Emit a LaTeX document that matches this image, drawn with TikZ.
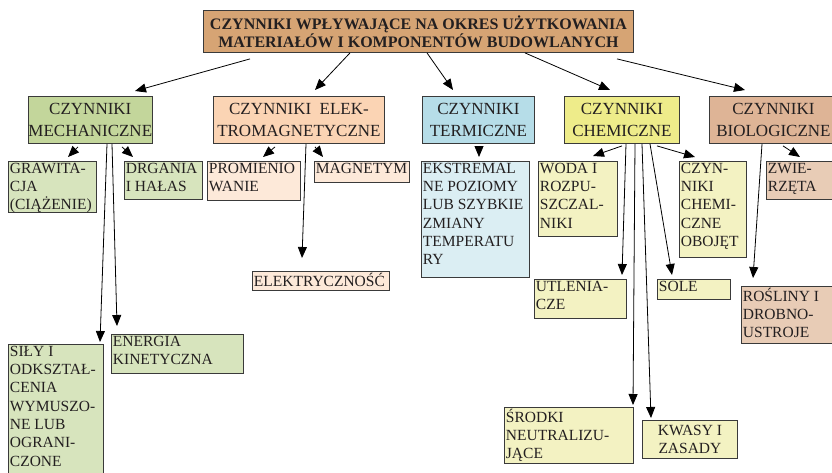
\documentclass[tikz,border=0pt]{standalone}
\usepackage{fontspec}
\setmainfont{Liberation Serif}
\usetikzlibrary{arrows.meta}
\definecolor{TopTan}{HTML}{D6A474}
\definecolor{MechGreen}{HTML}{C3D69B}
\definecolor{MechLeaf}{HTML}{D7E4BD}
\definecolor{ElekPeach}{HTML}{FBD4B4}
\definecolor{ElekLeaf}{HTML}{FDE9D9}
\definecolor{TermBlue}{HTML}{B6DDE8}
\definecolor{TermLeaf}{HTML}{DBEEF3}
\definecolor{ChemYellow}{HTML}{EEEC8A}
\definecolor{ChemLeaf}{HTML}{F3F2C2}
\definecolor{BioTan}{HTML}{DEB496}
\definecolor{BioLeaf}{HTML}{E8CCB6}
\definecolor{LineGray}{HTML}{3A3A3A}
\definecolor{TextDark}{HTML}{231F20}
% top-aligned text inside the small boxes
\newcommand{\leaftext}[3]{\parbox[t][#2][t]{#1}{\raggedright #3}}

\begin{document}
\begin{tikzpicture}[
    x=1pt, y=-1pt,
    >={Triangle[length=11pt,width=9pt]},
    every node/.style={text=TextDark, draw=LineGray, line width=0.9pt},
    topbox/.style={anchor=north west, fill=TopTan, align=center, minimum width=430pt, minimum height=42pt, inner sep=0pt, font=\fontsize{16}{18}\selectfont\bfseries},
    group/.style={anchor=north west, align=center, minimum height=47pt, inner sep=0pt, font=\fontsize{17}{21}\selectfont},
    leaf/.style={anchor=north west, inner sep=1.5pt, font=\fontsize{15.5}{18.3}\selectfont}
]
\useasboundingbox (0,0) rectangle (832,472);
\clip (0,0) rectangle (832,472);

\node[topbox] (t) at (203,10) {CZYNNIKI WPŁYWAJĄCE NA OKRES UŻYTKOWANIA\\MATERIAŁÓW I KOMPONENTÓW BUDOWLANYCH};

\node[group, fill=MechGreen, minimum width=121pt] (mech) at (28,96) {CZYNNIKI\\MECHANICZNE};
\node[group, fill=ElekPeach, minimum width=171pt] (elek) at (213,96) {CZYNNIKI\enspace ELEK-\\TROMAGNETYCZNE};
\node[group, fill=TermBlue, minimum width=112pt] (term) at (422,96) {CZYNNIKI\\TERMICZNE};
\node[group, fill=ChemYellow, minimum width=115pt] (chem) at (564,96) {CZYNNIKI\\CHEMICZNE};
\node[group, fill=BioTan, minimum width=128pt] (bio) at (709,96) {CZYNNIKI\\BIOLOGICZNE};

% mechanical
\node[leaf, fill=MechLeaf] (graw) at (8,161) {\leaftext{85pt}{48pt}{GRAWITA-\\CJA\\(CIĄŻENIE)}};
\node[leaf, fill=MechLeaf] (drg) at (124,161) {\leaftext{75pt}{35pt}{DRGANIA\\I HAŁAS}};
\node[leaf, fill=MechLeaf] (sily) at (8,344) {\leaftext{92pt}{133pt}{SIŁY I\\ODKSZTAŁ-\\CENIA\\WYMUSZO-\\NE LUB\\OGRANI-\\CZONE}};
\node[leaf, fill=MechLeaf] (energ) at (111,334) {\leaftext{129pt}{36pt}{ENERGIA\\KINETYCZNA}};
% electromagnetic
\node[leaf, fill=ElekLeaf] (prom) at (207,161) {\leaftext{90pt}{36pt}{PROMIENIO\\WANIE}};
\node[leaf, fill=ElekLeaf] (magn) at (314,161) {\leaftext{92pt}{18pt}{MAGNETYM}};
\node[leaf, fill=ElekLeaf] (elec) at (252,271) {\leaftext{134pt}{16pt}{ELEKTRYCZNOŚĆ}};
% thermal
\node[leaf, fill=TermLeaf] (ekst) at (421,161) {\leaftext{105pt}{113pt}{EKSTREMAL\\NE POZIOMY\\LUB SZYBKIE\\ZMIANY\\TEMPERATU\\RY}};
% chemical
\node[leaf, fill=ChemLeaf] (woda) at (538,161) {\leaftext{76pt}{72pt}{WODA I\\ROZPU-\\SZCZAL-\\NIKI}};
\node[leaf, fill=ChemLeaf] (czyn) at (679,161) {\leaftext{64pt}{93pt}{CZYN-\\NIKI\\CHEMI-\\CZNE\\OBOJĘT}};
\node[leaf, fill=ChemLeaf] (utl) at (534,279) {\leaftext{89pt}{36pt}{UTLENIA-\\CZE}};
\node[leaf, fill=ChemLeaf] (sole) at (657,279) {\leaftext{70pt}{17pt}{SOLE}};
\node[leaf, fill=ChemLeaf] (sroz) at (504,407) {\leaftext{126pt}{53pt}{ŚRODKI\\NEUTRALIZU-\\JĄCE}};
\node[leaf, fill=ChemLeaf, align=center, minimum width=95pt, minimum height=38pt, inner sep=0pt] (kwas) at (642,420) {KWASY I\\ZASADY};
% biological
\node[leaf, fill=BioLeaf] (zwie) at (766,161) {\leaftext{76pt}{35pt}{ZWIE-\\RZĘTA}};
\node[leaf, fill=BioLeaf] (rosl) at (741,286) {\leaftext{101pt}{54pt}{ROŚLINY I\\DROBNO-\\USTROJE}};

\draw[->, thick] ([shift={(47,6)}]t.south west) -- ([shift={(107,-5)}]mech.north west);
\draw[->, thick] ([shift={(147,0)}]t.south west) -- ([shift={(102,-6)}]elek.north west);
\draw[->, thick] ([shift={(224,0)}]t.south west) -- ([shift={(31,-6)}]term.north west);
\draw[->, thick] ([shift={(322,0)}]t.south west) -- ([shift={(46,-6)}]chem.north west);
\draw[->, thick] ([shift={(414,6)}]t.south west) -- ([shift={(36,-6)}]bio.north west);

\draw[->, thick] ([shift={(50,3)}]mech.south west) -- ([shift={(60,-4)}]graw.north west);
\draw[->, thick] ([shift={(94,3)}]mech.south west) -- ([shift={(9,-4)}]drg.north west);
\draw[->, thick] ([shift={(79,0)}]mech.south west) -- ([shift={(92,-2)}]sily.north west);
\draw[->, thick] ([shift={(84,0)}]mech.south west) -- ([shift={(6,-8)}]energ.north west);

\draw[->, thick] ([shift={(62,3)}]elek.south west) -- ([shift={(56,-4)}]prom.north west);
\draw[->, thick] ([shift={(102,3)}]elek.south west) -- ([shift={(9,-4)}]magn.north west);
\draw[->, thick] ([shift={(93,0)}]elek.south west) -- ([shift={(50,-13)}]elec.north west);

\draw[->, thick] ([shift={(57,2)}]term.south west) -- ([shift={(58,-4)}]ekst.north west);

\draw[->, thick] ([shift={(58,2)}]chem.south west) -- ([shift={(55,-5)}]woda.north west);
\draw[->, thick] ([shift={(93,2)}]chem.south west) -- ([shift={(16,-4)}]czyn.north west);
\draw[->, thick] ([shift={(62,0)}]chem.south west) -- ([shift={(88,-4)}]utl.north west);
\draw[->, thick] ([shift={(71,0)}]chem.south west) -- ([shift={(129,-2)}]sroz.north west);
\draw[->, thick] ([shift={(78,0)}]chem.south west) -- ([shift={(9,-2)}]kwas.north west);
\draw[->, thick] ([shift={(86,0)}]chem.south west) -- ([shift={(15,-4)}]sole.north west);

\draw[->, thick] ([shift={(74,2)}]bio.south west) -- ([shift={(34,-4)}]zwie.north west);
\draw[->, thick] ([shift={(53,0)}]bio.south west) -- ([shift={(12,-8)}]rosl.north west);
\end{tikzpicture}
\end{document}
